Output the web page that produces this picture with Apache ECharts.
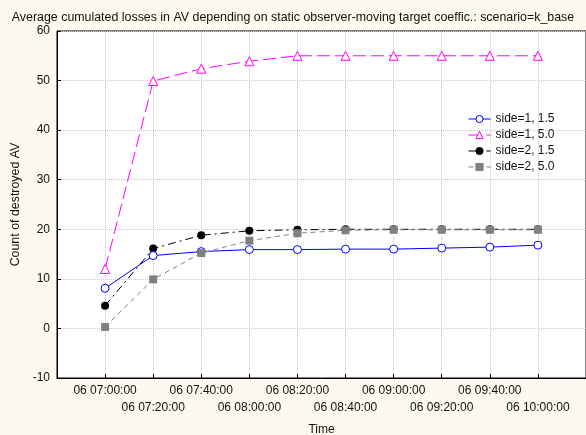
<!DOCTYPE html>
<html>
<head>
<meta charset="utf-8">
<script src="https://cdn.jsdelivr.net/npm/echarts@6/dist/echarts.min.js"></script>
<style>
html,body{margin:0;padding:0;background:#fdf9ee;}
#chart{width:586px;height:435px;}
</style>
</head>
<body>
<div id="chart"></div>
<script>
// minutes after 07:00
var minutes = [0, 20, 40, 60, 80, 100, 120, 140, 160, 180];
var tickLabels = ['06 07:00:00','06 07:20:00','06 07:40:00','06 08:00:00','06 08:20:00','06 08:40:00','06 09:00:00','06 09:20:00','06 09:40:00','06 10:00:00'];
var side1_15 = [8.1, 14.7, 15.5, 15.9, 15.9, 16.0, 16.0, 16.2, 16.4, 16.8];
var side1_50 = [12.0, 49.9, 52.4, 53.9, 55.0, 55.0, 55.0, 55.0, 55.0, 55.0];
var side2_15 = [4.6, 16.1, 18.8, 19.7, 19.9, 20.0, 20.0, 20.0, 20.0, 20.0];
var side2_50 = [0.3, 9.9, 15.2, 17.7, 19.2, 19.8, 19.9, 19.9, 19.9, 19.9];
var seriesNames = ['side=1, 1.5', 'side=1, 5.0', 'side=2, 1.5', 'side=2, 5.0'];

function pairs(vals){ return minutes.map(function(m,i){ return [m, vals[i]]; }); }

var chart = echarts.init(document.getElementById('chart'));
var font = 'Liberation Sans, Arial, sans-serif';
chart.setOption({
  backgroundColor: '#fdf9ee',
  animation: false,
  textStyle: {fontFamily: font},
  title: {
    text: 'Average cumulated losses in AV depending on static observer-moving target coeffic.: scenario=k_base',
    left: 'center', top: 7,
    textStyle: {fontSize: 12.4, fontWeight: 'normal', color: '#111', fontFamily: font}
  },
  grid: {left: 57, top: 31, right: 0, bottom: 57, outerBoundsMode: 'none', containLabel: false,
         show: true, backgroundColor: '#fff', borderColor: '#000', borderWidth: 1},
  legend: {
    orient: 'vertical', left: 463, top: 108,
    itemWidth: 22, itemHeight: 9, itemGap: 4,
    lineStyle: {width: 1},
    itemStyle: {borderWidth: 1},
    textStyle: {fontSize: 12, color: '#111', fontFamily: font},
    data: seriesNames
  },
  xAxis: {
    type: 'value', min: -20, max: 200, interval: 20,
    name: 'Time', nameLocation: 'middle', nameGap: 46,
    nameTextStyle: {fontSize: 12, color: '#111'},
    axisLine: {show: true, onZero: false, lineStyle: {color: '#000'}},
    axisTick: {show: true, inside: true, length: 4, lineStyle: {color: '#000'}},
    axisLabel: {
      fontSize: 12, color: '#111', margin: 4, lineHeight: 17,
      formatter: function(v){
        var i = Math.round(v / 20);
        if (i < 0 || i >= tickLabels.length) return '';
        return (i % 2 === 0 ? '' : '\n') + tickLabels[i];
      }
    },
    splitLine: {show: true, lineStyle: {color: '#c8c8c8', type: 'dotted'}}
  },
  yAxis: {
    type: 'value', min: -10, max: 60, interval: 10,
    name: 'Count of destroyed AV', nameLocation: 'middle', nameGap: 35,
    nameTextStyle: {fontSize: 12.4, color: '#111'},
    axisLine: {show: true, onZero: false, lineStyle: {color: '#000'}},
    axisTick: {show: true, inside: true, length: 4, lineStyle: {color: '#000'}},
    axisLabel: {fontSize: 12, color: '#111', margin: 7},
    splitLine: {show: true, lineStyle: {color: '#c8c8c8', type: 'dotted'}}
  },
  series: [
    {
      name: seriesNames[0], type: 'line', data: pairs(side1_15),
      symbol: 'circle', symbolSize: 8,
      itemStyle: {color: '#fff', borderColor: '#0000ff', borderWidth: 1},
      lineStyle: {color: '#0000ff', width: 1, type: 'solid'}, z: 5
    },
    {
      name: seriesNames[1], type: 'line', data: pairs(side1_50),
      symbol: 'triangle', symbolSize: 9,
      itemStyle: {color: '#fff', borderColor: '#ff00ff', borderWidth: 1},
      lineStyle: {color: '#ff00ff', width: 1, type: [13, 5]}, z: 4
    },
    {
      name: seriesNames[2], type: 'line', data: pairs(side2_15),
      symbol: 'circle', symbolSize: 8,
      itemStyle: {color: '#000', borderColor: '#000', borderWidth: 0},
      lineStyle: {color: '#000', width: 1, type: [8, 4, 2, 4]}, z: 3
    },
    {
      name: seriesNames[3], type: 'line', data: pairs(side2_50),
      symbol: 'rect', symbolSize: 8,
      itemStyle: {color: '#808080', borderColor: '#808080', borderWidth: 0},
      lineStyle: {color: '#808080', width: 1, type: [5, 4]}, z: 6
    }
  ]
});
</script>
</body>
</html>
